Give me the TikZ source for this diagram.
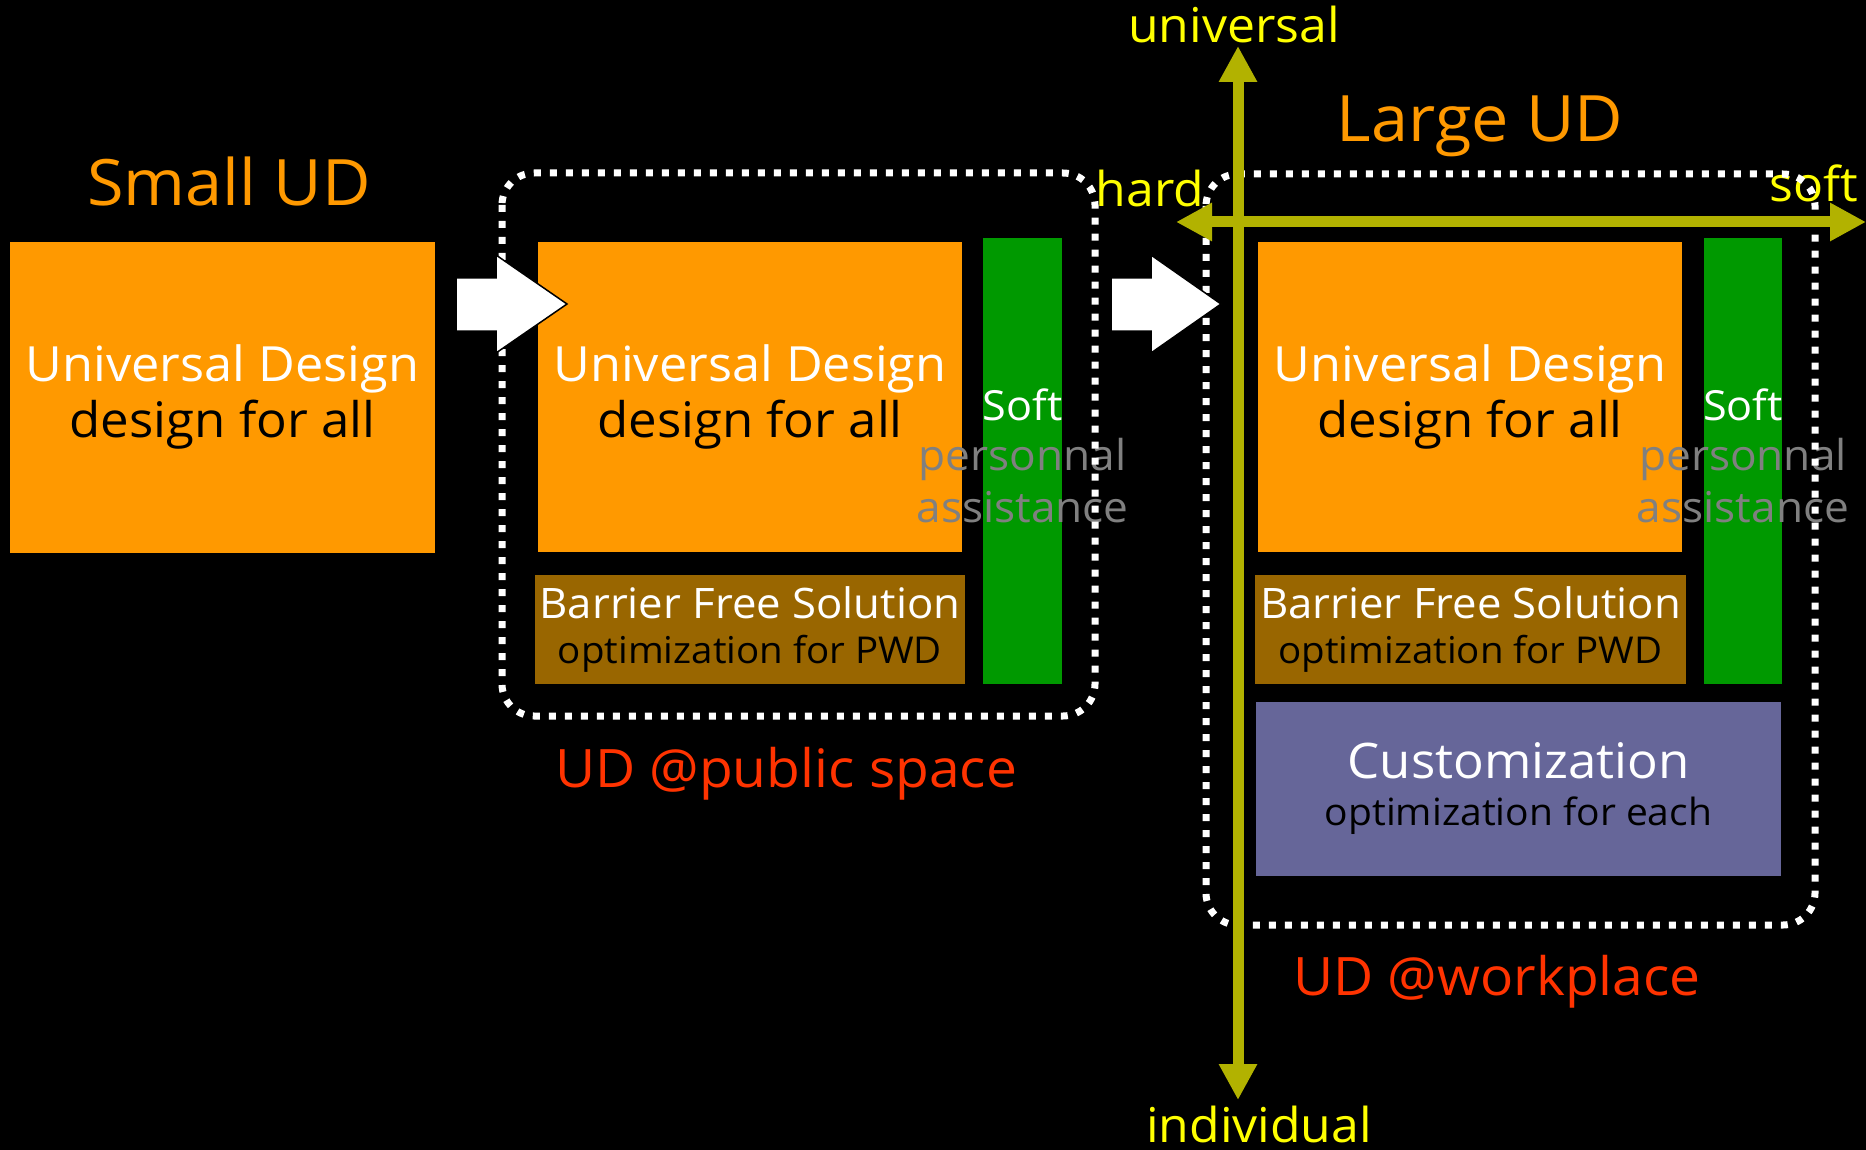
\documentclass[tikz,border=0pt]{standalone}
\usepackage{fontspec}
\setmainfont[FakeStretch=1.04]{Open Sans}
\usetikzlibrary{arrows.meta}
\definecolor{udorange}{HTML}{FF9900}
\definecolor{udgreen}{HTML}{009900}
\definecolor{udbrown}{HTML}{996600}
\definecolor{udpurple}{HTML}{666699}
\definecolor{udolive}{HTML}{B2B200}
\definecolor{udyellow}{HTML}{FFFF00}
\definecolor{udred}{HTML}{FF3300}
\definecolor{udgray}{HTML}{808080}
\newcommand{\fs}[1]{\fontsize{#1}{#1}\selectfont}
\tikzset{
  blk/.style={rectangle, inner sep=0pt, outer sep=0pt},
  txt/.style={inner sep=0pt, anchor=base},
  dotbox/.style={draw=white, line width=7pt, dash pattern=on 7pt off 9pt, rounded corners=32pt},
  blockarrow/.style={fill=white, draw=black, line width=1.5pt, line join=miter},
  axis/.style={draw=udolive, line width=11pt, {Triangle[length=36pt,width=36pt]}-{Triangle[length=36pt,width=36pt]}},
}
\begin{document}
\begin{tikzpicture}[x=1pt,y=-1pt]
\fill[black] (0,0) rectangle (1866,1150);
\useasboundingbox (0,0) rectangle (1866,1150);

% ---------- Small UD ----------
\node[txt, text=udorange, font=\fs{64}] (smallud) at (229,206) {Small UD};
\node[blk, fill=udorange, minimum width=425pt, minimum height=311pt] (ud1) at (222.5,397.5) {};
\node[txt, text=white, font=\fs{48.5}] (ud1a) at (222.5,381) {Universal Design};
\node[txt, text=black, font=\fs{49}] (ud1b) at (222.5,437) {design for all};

% ---------- UD @public space ----------
\node[blk, fill=udorange, minimum width=424pt, minimum height=310pt] (ud2) at (750,397) {};
\node[txt, text=white, font=\fs{48.5}] (ud2a) at (750,381) {Universal Design};
\node[txt, text=black, font=\fs{49}] (ud2b) at (750,437) {design for all};
\node[blk, fill=udbrown, minimum width=430pt, minimum height=109pt] (bf2) at (750,629.5) {};
\node[txt, text=white, font=\fs{42}] (bf2a) at (750,618) {Barrier Free Solution};
\node[txt, text=black, font=\fs{37}] (bf2b) at (750,663) {optimization for PWD};
\node[blk, fill=udgreen, minimum width=79pt, minimum height=446pt] (sf2) at (1022.5,461) {};
\node[txt, text=white, font=\fs{41.5}] (sf2a) at (1022.5,420) {Soft};
\node[txt, text=udgray, font=\fs{42.5}] (sf2b) at (1022.5,470) {personnal};
\node[txt, text=udgray, font=\fs{42.5}] (sf2c) at (1022.5,522) {assistance};
\node[txt, text=udred, font=\fs{53}] (pub) at (786,787) {UD @public space};

% ---------- Large UD ----------
\node[txt, text=udorange, font=\fs{64}] (largeud) at (1480,142) {Large UD};
\node[blk, fill=udorange, minimum width=424pt, minimum height=310pt] (ud3) at (1470,397) {};
\node[txt, text=white, font=\fs{48.5}] (ud3a) at (1470,381) {Universal Design};
\node[txt, text=black, font=\fs{49}] (ud3b) at (1470,437) {design for all};
\node[blk, fill=udbrown, minimum width=431pt, minimum height=109pt] (bf3) at (1470.5,629.5) {};
\node[txt, text=white, font=\fs{42}] (bf3a) at (1470.5,618) {Barrier Free Solution};
\node[txt, text=black, font=\fs{37}] (bf3b) at (1470.5,663) {optimization for PWD};
\node[blk, fill=udgreen, minimum width=78pt, minimum height=446pt] (sf3) at (1743,461) {};
\node[txt, text=white, font=\fs{41.5}] (sf3a) at (1743,420) {Soft};
\node[txt, text=udgray, font=\fs{42.5}] (sf3b) at (1743,470) {personnal};
\node[txt, text=udgray, font=\fs{42.5}] (sf3c) at (1743,522) {assistance};
\node[blk, fill=udpurple, minimum width=525pt, minimum height=174pt] (cu3) at (1518.5,789) {};
\node[txt, text=white, font=\fs{49}] (cu3a) at (1518.5,778) {Customization};
\node[txt, text=black, font=\fs{37.5}] (cu3b) at (1518.5,825) {optimization for each};
\node[txt, text=udred, font=\fs{53}] (work) at (1497,995) {UD @workplace};

% ---------- axis labels ----------
\node[txt, text=udyellow, font=\fs{48}] (luniv) at (1234,43) {universal};
\node[txt, text=udyellow, font=\fs{48}] (lindiv) at (1259,1142) {individual};
\node[txt, text=udyellow, font=\fs{48}] (lhard) at (1150,207) {hard};
\node[txt, text=udyellow, font=\fs{48}] (lsoft) at (1814,202) {soft};

% ---------- dotted frames ----------
\draw[dotbox] (502,173) rectangle (1095,716);
\draw[dotbox] (1206,174) rectangle (1815,925);

% ---------- block arrows ----------
\draw[blockarrow] (456,278) -- (496,278) -- (496,255) -- (567,304) -- (496,353) -- (496,331) -- (456,331) -- cycle;
\draw[blockarrow] (1111,278) -- (1151,278) -- (1151,255) -- (1221,304) -- (1151,353) -- (1151,331) -- (1111,331) -- cycle;

% ---------- axes ----------
\coordinate (vtop) at (1238,46);
\coordinate (vbot) at (1238,1100);
\coordinate (hleft) at (1176,222);
\coordinate (hright) at (1866,222);
\draw[axis] (hleft) -- (hright);
\draw[axis] (vbot) -- (vtop);
\end{tikzpicture}
\end{document}
